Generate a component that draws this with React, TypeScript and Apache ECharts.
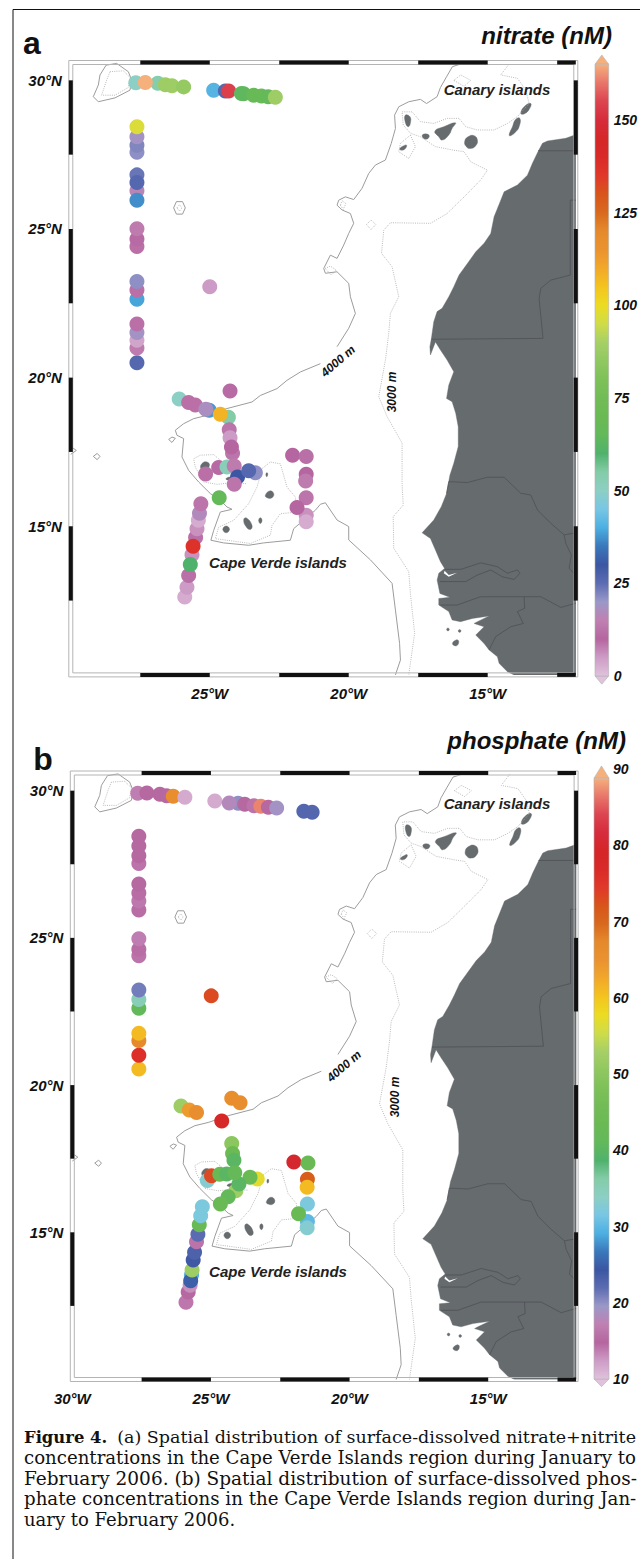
import React, { useEffect, useRef } from "react";
import * as echarts from "echarts";

const lonMin = -30, lonMax = -11.83, latMin = 10, latMax = 30.6;
const lonBands = [[-27.5, -25], [-22.5, -20], [-17.5, -15], [-12.5, -11.83]];
const latBands = [[30, 27.5], [25, 22.5], [20, 17.5], [15, 12.5]];

const ramp = ["#e0c2dc","#cd9cc6","#b5659f","#c080b2","#9a98c8","#5c6cb2","#3b56a2","#3a78bc","#4cb0e2","#78c6e4","#8ccfc4","#84cca8","#4fb26c","#63b95a","#6aba54","#72bc56","#7dc158","#90c860","#a6d066","#cfdc48","#ecdc22","#f4c41e","#f1a82a","#ea9230","#e58a2c","#d8691e","#d8551a","#e0382a","#d92a28","#d52628","#d62c3c","#dc4450","#e8766a","#f5b07c"];

// [lon, lat, value]
const nitrateNorthRow = [[-27.66,29.92,50],[-26.87,29.9,54],[-27.32,29.93,165],[-26.6,29.85,88],[-26.36,29.82,88],[-25.94,29.78,86],[-24.86,29.67,41],[-24.44,29.64,26],[-24.32,29.64,154],[-23.86,29.56,64],[-23.78,29.55,64],[-23.42,29.5,68],[-23.14,29.47,68],[-22.9,29.45,66],[-22.64,29.43,88]];
const nitrateMeridian = [[-27.62,20.5,26],[-27.62,21.0,14],[-27.62,21.26,4],[-27.62,21.52,19],[-27.62,21.80,9],[-27.62,22.64,39],[-27.62,22.95,9],[-27.62,23.23,21],[-27.62,24.41,9],[-27.62,24.66,11],[-27.62,25.01,14],[-27.62,26.29,16],[-27.62,25.97,37],[-27.62,26.82,24],[-27.62,26.56,26],[-27.62,27.58,21],[-27.62,27.82,22],[-27.62,28.10,19],[-27.62,28.44,97],[-25,23.06,5]];
const nitrateIslands = [[-26.1,19.28,50],[-25.76,19.16,9],[-25.52,19.08,9],[-25.02,18.9,38],[-25.14,18.94,18],[-24.33,18.67,55],[-24.62,18.77,108],[-24.27,19.55,11],[-24.3,18.25,13],[-24.27,17.98,5],[-24.18,17.46,13],[-24.22,17.67,10],[-24.68,16.98,11],[-24.38,16.99,52],[-24.12,17.03,14],[-25.15,16.76,9],[-24.0,16.66,30],[-24.12,16.41,13],[-23.36,16.8,21],[-23.6,16.87,26],[-24.66,15.96,66],[-22.02,17.39,10],[-21.53,17.35,12],[-21.53,16.75,10],[-21.55,16.52,14],[-21.53,15.96,13],[-21.53,15.37,6],[-21.53,15.15,3],[-21.86,15.63,10]];
const nitrateTrack = [[-25.9,12.62,3],[-25.82,12.95,5],[-25.76,13.34,12],[-25.64,14.04,6],[-25.7,13.71,60],[-25.51,14.62,9],[-25.46,14.92,6],[-25.41,15.2,3],[-25.37,15.44,17],[-25.32,15.76,13],[-25.6,14.33,137]];

const phosphateNorthRow = [[-27.64,29.91,17],[-27.31,29.92,15],[-26.84,29.88,15],[-26.6,29.83,15],[-26.36,29.81,66],[-25.94,29.78,11.5],[-24.86,29.65,11.5],[-24.02,29.57,20],[-24.34,29.58,18],[-23.78,29.54,15],[-23.45,29.49,16],[-23.2,29.47,87],[-22.93,29.44,15],[-22.63,29.41,19],[-21.65,29.3,22.5],[-21.35,29.27,22.5]];
const phosphateMeridian = [[-27.6,20.55,61],[-27.6,21.01,76],[-27.6,21.51,67],[-27.6,21.76,61],[-27.6,22.61,41],[-27.6,22.91,35],[-27.6,23.23,21],[-27.6,24.39,16],[-27.6,24.61,15.5],[-27.6,24.97,17],[-27.6,25.95,15.5],[-27.6,26.25,16.5],[-27.6,26.52,15.5],[-27.6,26.83,15],[-27.6,27.53,16],[-27.6,27.79,15],[-27.6,28.12,15],[-27.6,28.45,15],[-24.99,23.03,73]];
const phosphateIslands = [[-26.08,19.29,52],[-25.78,19.15,64],[-25.52,19.07,66],[-24.25,19.55,66],[-23.95,19.4,66],[-24.61,18.78,78],[-24.25,18.02,50],[-24.22,17.68,44],[-24.17,17.45,40],[-25.13,16.76,33],[-24.98,16.92,73],[-24.68,16.97,43],[-24.43,16.98,40],[-23.33,16.81,57],[-23.59,16.87,43],[-24.1,16.41,52],[-23.99,16.64,40],[-24.14,17.02,42],[-24.38,16.21,41],[-24.66,15.96,43],[-22.01,17.39,80],[-21.5,17.35,43],[-21.52,16.8,71],[-21.53,16.53,61],[-21.52,15.96,32],[-21.52,15.37,30],[-21.53,15.15,33],[-21.84,15.63,43]];
const phosphateTrack = [[-25.9,12.62,14],[-25.82,12.97,15],[-25.75,13.2,13],[-25.7,13.55,29],[-25.73,13.35,25],[-25.68,13.72,52],[-25.64,14.06,24],[-25.59,14.32,23],[-25.52,14.68,16],[-25.47,14.93,22],[-25.42,15.26,43],[-25.37,15.56,32],[-25.31,15.87,32]];

const africa = [[-11.87,28.16],[-12.19,28.05],[-12.85,27.96],[-13.03,27.88],[-13.19,27.6],[-13.39,27.21],[-13.57,26.81],[-13.93,26.48],[-14.41,26.25],[-14.53,25.97],[-14.77,25.41],[-14.89,24.85],[-15.13,24.52],[-15.43,24.23],[-15.73,23.84],[-16.03,23.45],[-16.22,23.06],[-16.4,22.72],[-16.64,22.33],[-16.82,22.22],[-16.94,21.88],[-17.03,21.29],[-17.08,21.04],[-17.06,20.76],[-16.88,21.2],[-16.7,20.93],[-16.46,20.59],[-16.22,20.2],[-16.4,19.75],[-16.48,19.3],[-16.28,19.19],[-16.15,18.8],[-16.06,18.35],[-16.06,17.68],[-16.22,17.12],[-16.36,16.72],[-16.48,16.1],[-16.67,15.66],[-16.94,15.21],[-17.36,14.78],[-17.06,14.59],[-16.88,14.2],[-16.7,13.81],[-16.55,13.58],[-16.76,13.42],[-16.82,13.19],[-16.72,12.74],[-16.36,12.61],[-16.76,12.57],[-16.76,12.35],[-16.4,12.13],[-16.28,11.85],[-15.98,11.79],[-15.55,11.9],[-14.95,11.98],[-15.37,11.79],[-15.49,11.73],[-15.13,11.62],[-15.43,11.34],[-15.13,11.06],[-14.95,10.84],[-14.65,10.61],[-14.59,10.39],[-14.29,10.11],[-14.05,10.0],[-11.83,10.0],[-11.83,28.16]];
const canaryIslands = [
  [[-17.96,28.83],[-17.8,28.78],[-17.78,28.57],[-17.86,28.44],[-17.97,28.61]],
  [[-18.17,27.69],[-18.02,27.8],[-17.92,27.82],[-17.96,27.71],[-18.08,27.65]],
  [[-17.36,28.13],[-17.24,28.2],[-17.1,28.13],[-17.22,28.02]],
  [[-16.9,28.29],[-16.58,28.44],[-16.16,28.57],[-16.28,28.38],[-16.4,28.16],[-16.64,27.99],[-16.76,28.1]],
  [[-15.83,27.93],[-15.71,28.1],[-15.49,28.14],[-15.37,27.99],[-15.43,27.8],[-15.61,27.71],[-15.77,27.77]],
  [[-14.23,28.16],[-14.11,28.44],[-13.99,28.69],[-13.84,28.72],[-13.87,28.44],[-13.99,28.27],[-14.17,28.14]],
  [[-13.81,28.89],[-13.67,29.13],[-13.45,29.22],[-13.51,29.02],[-13.69,28.87]],
];
const capeVerdeIslands = [
  [[-25.32,16.94],[-25.28,17.11],[-25.1,17.16],[-25.01,17.05],[-25.16,16.88]],
  [[-25.09,16.83],[-25.01,16.88],[-24.91,16.83],[-25.01,16.75]],
  [[-24.42,16.6],[-24.2,16.66],[-24.14,16.57],[-24.32,16.55]],
  [[-22.97,16.79],[-22.92,16.79],[-22.93,16.68],[-22.97,16.68]],
  [[-23.0,16.04],[-22.84,16.19],[-22.7,16.1],[-22.76,15.96],[-22.94,15.96]],
  [[-23.24,15.2],[-23.18,15.29],[-23.12,15.2],[-23.18,15.09]],
  [[-23.78,15.22],[-23.68,15.28],[-23.48,15.03],[-23.54,14.89],[-23.69,14.98]],
  [[-24.53,14.9],[-24.41,15.01],[-24.29,14.9],[-24.41,14.78]],
];
const bissagos = [
  [[-16.48,11.53],[-16.43,11.58],[-16.38,11.53],[-16.43,11.48]],
  [[-16.06,11.48],[-16.01,11.53],[-15.96,11.48],[-16.01,11.43]],
  [[-16.27,11.05],[-16.12,11.18],[-16.04,11.12],[-16.12,10.98]],
];
const gambiaInlet = [[-16.58,13.42],[-16.4,13.3],[-16.1,13.44],[-16.4,13.36],[-16.55,13.5]];

const contour4000North = [[-15.97,30.55],[-16.27,30.46],[-16.48,30.12],[-16.7,29.76],[-16.82,29.45],[-17.2,29.22],[-17.42,29.36],[-17.84,29.28],[-18.2,29.11],[-18.35,28.83],[-18.32,28.38],[-18.47,27.88],[-18.68,27.32],[-19.04,27.15],[-19.28,26.87],[-19.52,26.37],[-19.82,25.99],[-20.12,26.08],[-20.36,25.97],[-20.42,25.8],[-20.24,25.64],[-19.94,25.52],[-19.82,25.19],[-20.0,24.85],[-20.18,24.46],[-20.42,24.01],[-20.66,24.12],[-20.9,23.67],[-20.84,23.51],[-20.42,23.56],[-20.0,23.17],[-19.94,22.72],[-19.76,22.16],[-20.0,21.66],[-20.42,21.04]];
const contour4000South = [[-21.02,20.47],[-21.74,20.19],[-22.22,19.91],[-22.58,19.63],[-23.18,19.4],[-23.48,19.18],[-24.38,18.96],[-25.1,18.73],[-25.58,18.62],[-25.94,18.45],[-26.24,18.23],[-26.18,18.06],[-25.94,17.95],[-26.0,17.33],[-25.76,16.88],[-25.4,16.49],[-24.98,16.1],[-24.62,15.87],[-24.38,15.65],[-24.2,15.57],[-24.62,15.48],[-24.86,14.86],[-24.96,14.53],[-24.5,14.44],[-23.6,14.36],[-23.06,14.44],[-22.1,14.53],[-21.98,14.92],[-21.2,15.54],[-21.02,15.74],[-20.84,15.79],[-20.42,15.21],[-20.0,14.99],[-20.0,14.54],[-19.22,13.87],[-18.44,13.08],[-18.32,12.18],[-18.17,11.06],[-18.14,10.5],[-18.32,10.0]];
const contour4000Madeira = [[-28.73,30.51],[-28.95,30.18],[-29.01,29.84],[-29.19,29.45],[-29.01,29.28],[-28.41,29.41],[-27.87,29.67],[-27.81,30.01],[-27.93,30.29],[-28.35,30.57],[-28.73,30.51]];
const contour4000Seamount = [[-26.3,25.71],[-26.2,25.92],[-25.98,25.92],[-25.88,25.71],[-25.98,25.5],[-26.2,25.5],[-26.3,25.71]];
const contour4000Small1 = [[-26.48,17.92],[-26.36,18.0],[-26.24,17.96],[-26.36,17.82],[-26.48,17.92]];
const contour4000Small2 = [[-29.19,17.35],[-29.05,17.45],[-28.95,17.35],[-29.05,17.24],[-29.19,17.35]];
const contour4000Small3 = [[-30,17.68],[-29.8,17.55],[-30,17.42]];

const contour3000 = [[-14.23,30.55],[-14.53,30.18],[-13.93,30.07],[-13.63,29.67],[-13.51,29.22],[-13.93,28.78],[-14.29,28.55],[-14.77,28.33],[-15.37,28.33],[-15.79,28.44],[-16.03,28.72],[-16.46,28.72],[-16.94,28.55],[-17.42,28.61],[-17.72,28.94],[-18.08,28.94],[-18.04,28.5],[-17.78,28.22],[-17.42,28.1],[-16.88,27.77],[-16.22,27.65],[-15.85,27.6],[-15.61,27.26],[-15.01,26.98],[-15.25,26.65],[-15.85,26.08],[-16.46,25.52],[-17.06,25.19],[-18.5,25.21],[-18.74,24.96],[-18.82,24.18],[-18.44,23.73],[-18.2,22.72],[-18.5,22.16],[-18.56,21.49],[-18.68,20.59],[-18.92,19.36],[-18.62,18.69],[-18.08,17.8],[-18.08,16.44],[-18.04,15.71],[-18.4,15.32],[-18.38,14.26],[-17.84,13.47],[-17.78,12.74],[-17.63,11.4],[-17.84,10.0]];
const contour3000Hierro = [[-17.78,28.16],[-17.6,27.77],[-17.84,27.37],[-18.2,27.6],[-18.14,27.88],[-17.78,28.16]];
const contour3000Tenerife = [[-16.22,30.0],[-15.97,30.18],[-15.61,30.0],[-15.85,29.8],[-16.22,30.0]];
const contour3000Madeira = [[-28.59,30.29],[-28.71,30.01],[-28.89,29.5],[-28.41,29.5],[-27.93,29.76],[-27.87,30.1],[-28.11,30.32],[-28.59,30.29]];
const contour3000SeamountA = [[-26.18,25.71],[-26.09,25.82],[-26.0,25.71],[-26.09,25.6],[-26.18,25.71]];
const contour3000DiamondA = [[-20.3,25.8],[-20.24,25.95],[-20.1,25.85],[-20.2,25.66],[-20.3,25.8]];
const contour3000DiamondB = [[-19.36,25.15],[-19.2,25.3],[-19.02,25.15],[-19.2,24.98],[-19.36,25.15]];
const contour3000DiamondC = [[-20.85,23.67],[-20.66,23.75],[-20.45,23.62],[-20.62,23.45],[-20.85,23.67]];
const contour3000VerdeWest = [[-24.62,17.22],[-24.86,17.41],[-25.34,17.39],[-25.58,17.27],[-25.52,16.99],[-25.22,16.49],[-24.74,16.41],[-24.26,16.46],[-23.66,16.43]];
const contour3000VerdeEast = [[-23.12,16.94],[-22.82,17.16],[-22.46,17.1],[-22.22,16.32],[-21.92,15.98],[-21.86,15.48],[-22.46,15.42],[-22.76,15.03],[-22.82,14.7],[-23.54,14.42],[-24.38,14.53],[-24.8,14.58],[-24.68,14.97],[-24.14,15.2],[-23.6,15.76],[-23.3,16.32],[-23.18,16.71],[-23.12,16.94]];

const borderMorocco = [[-13.19,27.63],[-11.83,27.63]];
const borderMauritania = [[-17.03,21.29],[-13.01,21.32],[-13.15,22.66],[-13.09,23.0],[-12.73,23.28],[-12.03,23.45],[-12.03,25.97],[-11.83,25.97]];
const borderSenegalRiver = [[-16.48,16.1],[-16.4,16.5],[-15.73,16.47],[-15.01,16.65],[-14.41,16.65],[-13.81,16.11],[-13.45,16.05],[-13.21,15.55],[-12.73,15.1],[-12.25,14.71],[-11.83,14.78]];
const borderMali = [[-12.25,14.71],[-12.19,14.42],[-11.99,14.03],[-12.07,13.58],[-11.83,13.36]];
const borderGambia = [[-16.55,13.55],[-15.97,13.55],[-15.25,13.77],[-14.65,13.64],[-14.29,13.42],[-13.93,13.53],[-13.84,13.42],[-14.05,13.21],[-14.47,13.3],[-14.89,13.53],[-15.37,13.36],[-15.79,13.14],[-16.72,13.14]];
const borderSouthSenegal = [[-16.7,12.35],[-16.1,12.35],[-15.26,12.63],[-13.69,12.63],[-13.09,12.63],[-12.37,12.27],[-11.83,12.41]];
const borderBissau = [[-13.69,12.63],[-13.67,12.24],[-13.93,12.13],[-13.72,11.73],[-14.17,11.62],[-14.71,11.29],[-14.95,10.84]];

const solidContours = [contour4000North, contour4000South, contour4000Madeira, contour4000Seamount, contour4000Small1, contour4000Small2, contour4000Small3];
const dottedContours = [contour3000, contour3000Hierro, contour3000Tenerife, contour3000Madeira, contour3000SeamountA, contour3000DiamondA, contour3000DiamondB, contour3000DiamondC, contour3000VerdeWest, contour3000VerdeEast];
const borders = [borderMorocco, borderMauritania, borderSenegalRiver, borderMali, borderGambia, borderSouthSenegal, borderBissau];
const landPolygons = [africa, ...canaryIslands, ...capeVerdeIslands, ...bissagos];

const captionLines = [
  "(a) Spatial distribution of surface-dissolved nitrate+nitrite",
  "concentrations in the Cape Verde Islands region during January to",
  "February 2006. (b) Spatial distribution of surface-dissolved phos-",
  "phate concentrations in the Cape Verde Islands region during Jan-",
  "uary to February 2006.",
];

const SANS = '"Liberation Sans"';
const BI = (s: number) => `italic bold ${s}px ${SANS}`;
const axisFont = (fontSize: number) => ({ fontStyle: "italic", fontWeight: "bold", fontFamily: "Liberation Sans", fontSize, color: "#111" });

function mapSeries(i: number, values: number[][]) {
  const axis = { xAxisIndex: i, yAxisIndex: i };
  const series: any[] = [];
  series.push({
    type: "custom", ...axis, coordinateSystem: "cartesian2d", z: 1, silent: true, clip: true,
    data: landPolygons.map((p, k) => [p[0][0], p[0][1], k]),
    encode: { x: 0, y: 1 },
    renderItem: (_: any, api: any) => ({
      type: "polygon",
      shape: { points: landPolygons[api.value(2)].map((c) => api.coord(c)), smooth: api.value(2) > 0 ? 0.5 : 0 },
      style: { fill: "#666b6e", stroke: "#666b6e", lineWidth: 0.4 },
    }),
  });
  series.push({
    type: "custom", ...axis, coordinateSystem: "cartesian2d", z: 2, silent: true,
    data: [gambiaInlet[0]], encode: { x: 0, y: 1 },
    renderItem: (_: any, api: any) => ({
      type: "polygon", shape: { points: gambiaInlet.map((c) => api.coord(c)) }, style: { fill: "#ffffff" },
    }),
  });
  const lines = (list: number[][][], style: any) =>
    list.forEach((data) =>
      series.push({ type: "line", ...axis, data, symbol: "none", silent: true, z: 2, lineStyle: style, clip: true })
    );
  lines(borders, { color: "#4a4e51", width: 0.7 });
  lines(solidContours, { color: "#9c9c9c", width: 1 });
  lines(dottedContours, { color: "#a8a8a8", width: 0.8, type: [1, 1.2] });
  series.push({
    type: "scatter", ...axis, data: values, symbol: "circle", symbolSize: 15, silent: true, z: 4, clip: false,
    itemStyle: { opacity: 1 },
  });
  series.push({
    type: "custom", ...axis, coordinateSystem: "cartesian2d", z: 5, silent: true, clip: false,
    data: [[lonMin, latMin]], encode: { x: 0, y: 1 },
    renderItem: (_: any, api: any) => {
      const [x0, y1] = api.coord([lonMin, latMin]);
      const [x1, y0] = api.coord([lonMax, latMax]);
      const t = 2;
      const black = { fill: "#111111" };
      const children: any[] = [
        { type: "rect", shape: { x: x0 - t, y: y0 - t, width: x1 - x0 + 2 * t, height: y1 - y0 + 2 * t }, style: { fill: "none", stroke: "#b4b4b4", lineWidth: 1 } },
        { type: "rect", shape: { x: x0 + t, y: y0 + t, width: x1 - x0 - 2 * t, height: y1 - y0 - 2 * t }, style: { fill: "none", stroke: "#b4b4b4", lineWidth: 1 } },
      ];
      lonBands.forEach(([a, b]) => {
        const xa = api.coord([a, latMin])[0], xb = api.coord([b, latMin])[0];
        children.push({ type: "rect", shape: { x: xa, y: y0 - t, width: xb - xa, height: 2 * t }, style: black });
        children.push({ type: "rect", shape: { x: xa, y: y1 - t, width: xb - xa, height: 2 * t }, style: black });
      });
      latBands.forEach(([a, b]) => {
        const ya = api.coord([lonMin, a])[1], yb = api.coord([lonMin, b])[1];
        children.push({ type: "rect", shape: { x: x0 - t, y: ya, width: 2 * t, height: yb - ya }, style: black });
        children.push({ type: "rect", shape: { x: x1 - t, y: ya, width: 2 * t, height: yb - ya }, style: black });
      });
      return { type: "group", children };
    },
  });
  return series;
}

function colorbarSeries(i: number, lo: number, hi: number, apexLo: number, apexHi: number) {
  return {
    type: "custom", xAxisIndex: i, yAxisIndex: i, coordinateSystem: "cartesian2d", silent: true, clip: false, z: 3,
    data: [[0, lo]], encode: { x: 0, y: 1 },
    renderItem: (_: any, api: any) => {
      const [xa, yb] = api.coord([0, lo]);
      const [xb, yt] = api.coord([1, hi]);
      const apexT = api.coord([0.5, apexHi]);
      const apexB = api.coord([0.5, apexLo]);
      const stops = ramp.map((color, k) => ({ offset: k / (ramp.length - 1), color }));
      const edge = { stroke: "#b4b4b4", lineWidth: 0.6 };
      return {
        type: "group",
        children: [
          { type: "polygon", shape: { points: [[xa, yt], apexT, [xb, yt]] }, style: { fill: ramp[ramp.length - 1], ...edge } },
          { type: "polygon", shape: { points: [[xa, yb], apexB, [xb, yb]] }, style: { fill: ramp[0], ...edge } },
          {
            type: "rect", shape: { x: xa, y: yt, width: xb - xa, height: yb - yt },
            style: { fill: new echarts.graphic.LinearGradient(0, 1, 0, 0, stops), ...edge },
          },
        ],
      };
    },
  };
}

const t = (text: string, x: number, y: number, font: string, extra: any = {}, rotation = 0) => ({
  type: "text", x, y, rotation, z: 10, silent: true,
  style: { text, x: 0, y: 0, font, fill: "#111111", align: "center", verticalAlign: "middle", ...extra },
});

const mapAxes = (gridIndex: number, hide30: boolean) => ({
  x: {
    type: "value", gridIndex, min: lonMin, max: lonMax, interval: 5,
    axisLine: { show: false }, axisTick: { show: false }, splitLine: { show: false },
    axisLabel: {
      margin: 11, ...axisFont(15),
      formatter: (v: number) => (v % 5 !== 0 || (hide30 && v === -30) ? "" : `${-v}°W`),
      showMinLabel: true, showMaxLabel: false,
    },
  },
  y: {
    type: "value", gridIndex, min: latMin, max: latMax, interval: 5,
    axisLine: { show: false }, axisTick: { show: false }, splitLine: { show: false },
    axisLabel: {
      margin: 9, ...axisFont(15), padding: [5, 0, 0, 0],
      formatter: (v: number) => (v % 5 !== 0 || v === 10 ? "" : `${v}°N`),
    },
  },
});

const barAxes = (gridIndex: number, min: number, max: number, interval: number, margin: number) => ({
  x: { type: "value", gridIndex, min: 0, max: 1, show: false },
  y: {
    type: "value", gridIndex, min, max, interval, position: "right",
    axisLine: { show: false }, axisTick: { show: false }, splitLine: { show: false },
    axisLabel: {
      margin, ...axisFont(14),
      formatter: (v: number) => ((v - min) % interval !== 0 ? "" : `${v}`),
    },
  },
});

export default function App() {
  const ref = useRef<HTMLDivElement>(null);
  useEffect(() => {
    document.body.style.margin = "0";
    const chart = echarts.init(ref.current!, undefined, { renderer: "svg" });
    const a = mapAxes(0, true), b = mapAxes(1, false);
    const ca = barAxes(2, 0, 165, 25, 5), cb = barAxes(3, 10, 90, 10, 4);
    const sa = mapSeries(0, [...nitrateNorthRow, ...nitrateMeridian, ...nitrateIslands, ...nitrateTrack]);
    const sb = mapSeries(1, [...phosphateNorthRow, ...phosphateMeridian, ...phosphateIslands, ...phosphateTrack]);
    const series = [...sa, ...sb, colorbarSeries(2, 0, 165, -2.2, 167.5), colorbarSeries(3, 10, 88.8, 9, 90.4)];
    const idxA = sa.findIndex((s) => s.type === "scatter");
    const idxB = sa.length + sb.findIndex((s) => s.type === "scatter");
    const cap = (s: number) => `${s}px "DejaVu Serif"`;
    chart.setOption({
      animation: false,
      backgroundColor: "#ffffff",
      grid: [
        { left: 70.8, top: 62.5, width: 505, height: 612.4 },
        { left: 72.3, top: 773, width: 503.8, height: 606.5 },
        { left: 595, top: 64.2, width: 15, height: 611.8 },
        { left: 594, top: 769, width: 15, height: 610 },
      ],
      xAxis: [a.x, b.x, ca.x, cb.x],
      yAxis: [a.y, b.y, ca.y, cb.y],
      visualMap: [
        { type: "continuous", show: false, seriesIndex: idxA, dimension: 2, min: 0, max: 165, inRange: { color: ramp } },
        { type: "continuous", show: false, seriesIndex: idxB, dimension: 2, min: 10, max: 88.8, inRange: { color: ramp } },
      ],
      series,
      graphic: [
        { type: "line", z: 10, silent: true, shape: { x1: 13, y1: 9.5, x2: 640, y2: 9.5 }, style: { stroke: "#111", lineWidth: 1 } },
        { type: "line", z: 10, silent: true, shape: { x1: 13, y1: 9.5, x2: 13, y2: 1559 }, style: { stroke: "#111", lineWidth: 1 } },
        t("a", 32, 43, `bold 32px ${SANS}`),
        t("b", 43, 759, `bold 32px ${SANS}`),
        t("nitrate (nM)", 612, 35, BI(24), { align: "right" }),
        t("phosphate (nM)", 626, 740, BI(24), { align: "right" }),
        t("Canary islands", 497, 89, BI(15), { fill: "#222" }),
        t("Canary islands", 497, 803, BI(15), { fill: "#222" }),
        t("Cape Verde islands", 278, 562, BI(15), { fill: "#222" }),
        t("Cape Verde islands", 278, 1271, BI(15), { fill: "#222" }),
        t("4000 m", 338, 361, BI(12), {}, 0.72),
        t("4000 m", 344, 1066, BI(12), {}, 0.72),
        t("3000 m", 392, 392, BI(12), {}, Math.PI / 2),
        t("3000 m", 395, 1097, BI(12), {}, Math.PI / 2),
        t("Figure 4.", 24, 1437, `bold ${cap(16.4)}`, { align: "left" }),
        t(captionLines[0], 636, 1437, cap(17.5), { align: "right" }),
        t(captionLines[1], 24, 1457, cap(18.15), { align: "left" }),
        t(captionLines[2], 24, 1478, cap(18.5), { align: "left" }),
        t(captionLines[3], 24, 1498, cap(18.2), { align: "left" }),
        t(captionLines[4], 24, 1519, cap(18), { align: "left" }),
      ],
    });
    return () => chart.dispose();
  }, []);
  return <div ref={ref} style={{ position: "absolute", left: 0, top: 0, width: 640, height: 1559 }} />;
}
